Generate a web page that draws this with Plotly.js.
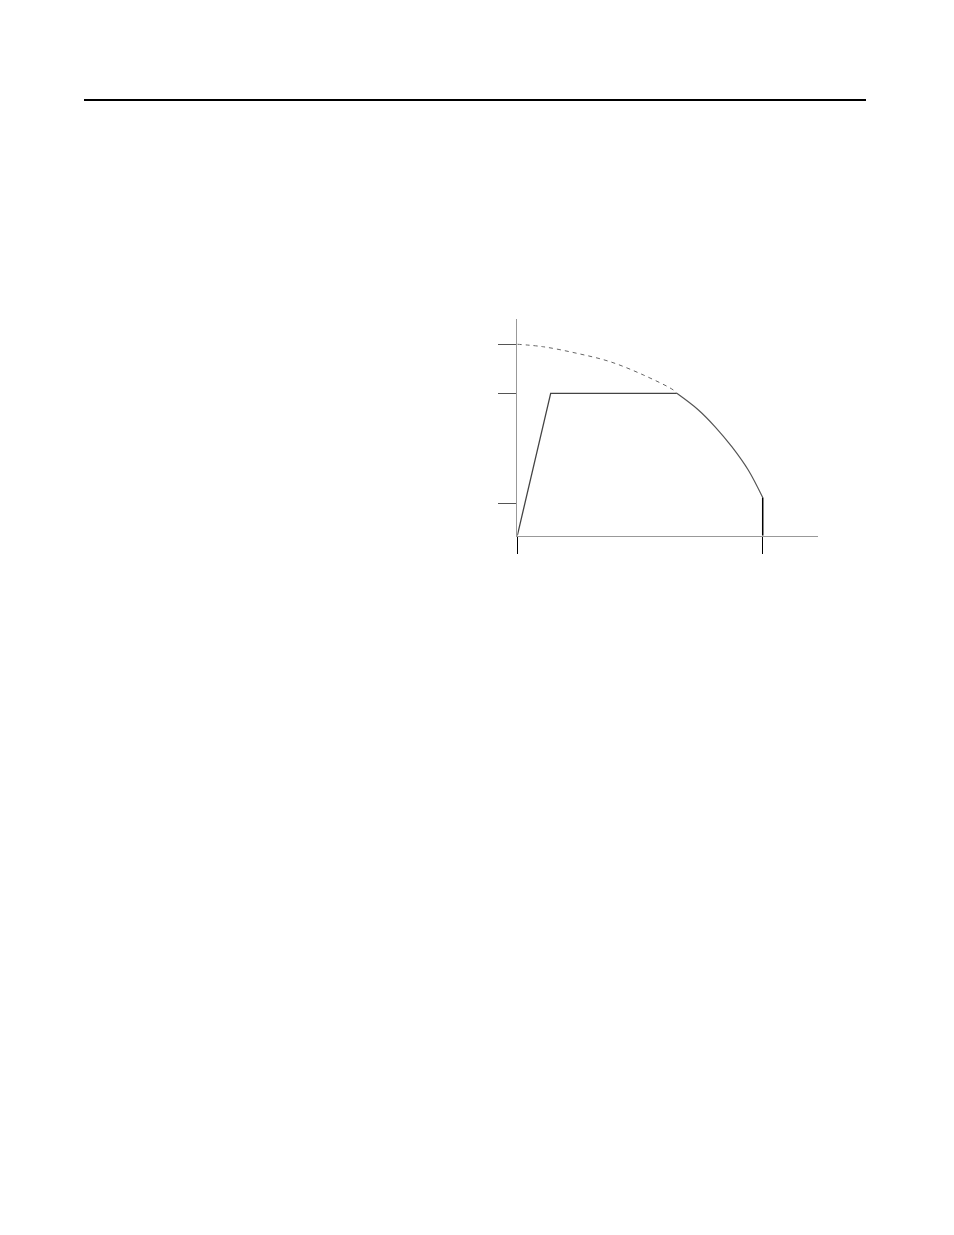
<!DOCTYPE html>
<html>
<head>
<meta charset="utf-8">
<script src="https://cdn.plot.ly/plotly-3.0.1.min.js"></script>
<style>
  html, body { margin: 0; padding: 0; background: #fff; overflow: hidden; }
  #myDiv { width: 954px; height: 1235px; }
</style>
</head>
<body>
<div id="myDiv"></div>
<script>
/* values, in percent of rated speed / torque */
var rampX = [0, 13.6, 65.0];
var rampY = [0, 74.4, 74.4];

var limitX = [0, 10.6, 24.2, 37.8, 51.3, 63.6, 65.0];
var limitY = [100, 98.7, 95.3, 90.9, 84.0, 76.1, 74.4];

var fallX = [65.0, 73.8, 80.6, 87.4, 94.1, 100];
var fallY = [74.4, 65.7, 56.9, 46.5, 34.3, 19.9];

var dropX = [100, 100];
var dropY = [19.9, 0];

var xTicks = [0, 100];
var yTicks = [16.9, 74.4, 100];

/**************************************************************/
function makeTraces() {
  var ret = [];
  ret.push({ x: limitX, y: limitY, mode: 'lines', type: 'scatter',
             line: { color: '#666', width: 1, dash: '4px,4px', shape: 'spline' },
             cliponaxis: false });
  ret.push({ x: rampX, y: rampY, mode: 'lines', type: 'scatter',
             line: { color: '#444', width: 1.3 }, cliponaxis: false });
  ret.push({ x: fallX, y: fallY, mode: 'lines', type: 'scatter',
             line: { color: '#555', width: 1.2, shape: 'spline' }, cliponaxis: false });
  ret.push({ x: dropX, y: dropY, mode: 'lines', type: 'scatter',
             line: { color: '#000', width: 1.5 }, cliponaxis: false });
  return ret;
}

function getLayout() {
  var W = 954, H = 1235;
  var p = {
    width: W,
    height: H,
    margin: { l: 0, r: 0, t: 0, b: 0 },
    paper_bgcolor: '#fff',
    plot_bgcolor: 'rgba(0,0,0,0)',
    showlegend: false,
    xaxis: {
      domain: [517.3 / W, 817.7 / W],
      range: [0, 122.4],
      showgrid: false, zeroline: false,
      showline: true, linecolor: '#999', linewidth: 1.5,
      tickmode: 'array', tickvals: xTicks,
      ticks: 'outside', ticklen: 17, tickwidth: 1.5, tickcolor: '#000',
      showticklabels: false
    },
    yaxis: {
      domain: [(H - 535.7) / H, (H - 319) / H],
      range: [0, 113.2],
      showgrid: false, zeroline: false,
      showline: true, linecolor: '#999', linewidth: 1,
      tickmode: 'array', tickvals: yTicks,
      ticks: 'outside', ticklen: 18, tickwidth: 1.3, tickcolor: '#555',
      showticklabels: false
    },
    shapes: [{
      type: 'line', xref: 'paper', yref: 'paper',
      x0: 84 / W, x1: 866 / W, y0: (H - 100) / H, y1: (H - 100) / H,
      line: { color: '#000', width: 2 }
    }]
  };
  return p;
}

Plotly.newPlot('myDiv', makeTraces(), getLayout(), { staticPlot: true, displayModeBar: false });
</script>
</body>
</html>
